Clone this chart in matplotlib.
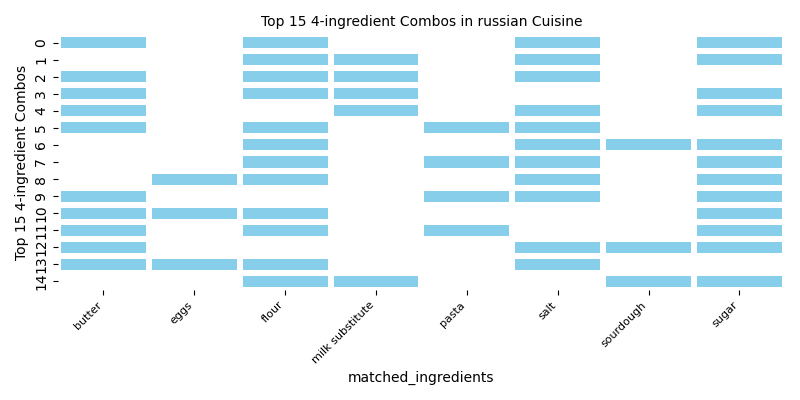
import matplotlib
matplotlib.use("Agg")
import matplotlib.pyplot as plt
import numpy as np
from matplotlib.colors import ListedColormap

ingredients = ["butter", "eggs", "flour", "milk substitute", "pasta", "salt", "sourdough", "sugar"]
combos = [
    ["butter", "flour", "salt", "sugar"],
    ["flour", "milk substitute", "salt", "sugar"],
    ["butter", "flour", "milk substitute", "salt"],
    ["butter", "flour", "milk substitute", "sugar"],
    ["butter", "milk substitute", "salt", "sugar"],
    ["butter", "flour", "pasta", "salt"],
    ["flour", "salt", "sourdough", "sugar"],
    ["flour", "pasta", "salt", "sugar"],
    ["eggs", "flour", "salt", "sugar"],
    ["butter", "pasta", "salt", "sugar"],
    ["butter", "eggs", "flour", "sugar"],
    ["butter", "flour", "pasta", "sugar"],
    ["butter", "salt", "sourdough", "sugar"],
    ["butter", "eggs", "flour", "salt"],
    ["flour", "milk substitute", "sourdough", "sugar"],
]

matrix = np.array([[1 if ing in combo else 0 for ing in ingredients] for combo in combos])

fig, ax = plt.subplots(figsize=(8, 4), dpi=100)
fig.subplots_adjust(left=0.0725, right=0.981, top=0.915, bottom=0.275)

ax.pcolormesh(matrix, cmap=ListedColormap(["white", "skyblue"]), vmin=0, vmax=1,
              edgecolors="white", linewidth=4.3)
ax.set_xlim(0, len(ingredients))
ax.set_ylim(len(combos), 0)
for s in ax.spines.values():
    s.set_visible(False)

ax.set_xticks(np.arange(len(ingredients)) + 0.5)
ax.set_xticklabels(ingredients, rotation=45, ha="right", fontsize=8)
ax.set_yticks(np.arange(len(combos)) + 0.5)
ax.set_yticklabels([str(i) for i in range(len(combos))], rotation=90, va="center")

ax.set_xlabel("matched_ingredients")
ax.set_ylabel("Top 15 4-ingredient Combos")
ax.set_title("Top 15 4-ingredient Combos in russian Cuisine", fontsize=10)

fig.savefig("out.png")
